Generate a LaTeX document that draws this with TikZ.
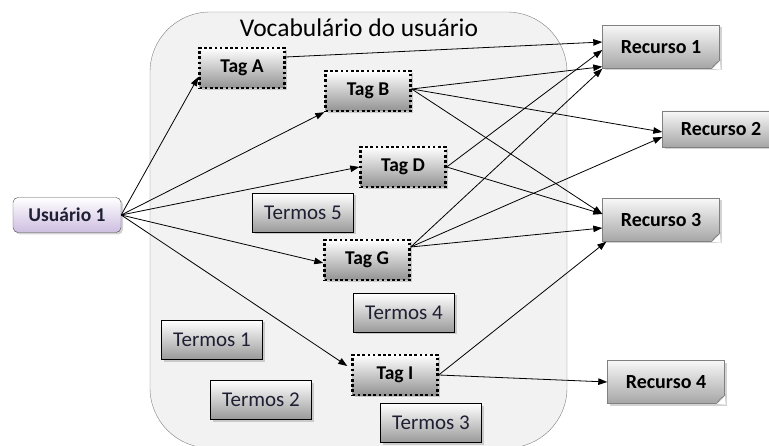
\documentclass[tikz,border=0pt]{standalone}
\usepackage{fontspec}
\setmainfont{Carlito}
\usepackage{tikz}
\usetikzlibrary{positioning,shadows,arrows.meta}
\definecolor{lav}{HTML}{CDBDE0}
\definecolor{txt}{HTML}{1F1F33}
\newcommand\recfold[1]{%
  \fill[white] ([xshift=-8pt]#1.south east) -- ([xshift=1pt,yshift=-1pt]#1.south east) -- ([yshift=8pt]#1.south east) -- cycle;
  \draw[gray,fill=gray!30] ([xshift=-8pt]#1.south east) -- ([yshift=8pt]#1.south east)
    .. controls ([xshift=-5pt,yshift=5pt]#1.south east) .. ([xshift=-8pt]#1.south east);}
\tikzset{
  shade/.style={drop shadow={opacity=0.35,shadow xshift=2pt,shadow yshift=-2pt}},
  userbox/.style={shade,draw=gray!60!black,rounded corners=5pt,top color=white,bottom color=lav,
    minimum width=108pt,minimum height=35pt,text=txt,font=\fontsize{19.5}{22}\selectfont\bfseries},
  tagbox/.style={shade,draw=black,line width=2.4pt,dash pattern=on 2.6pt off 2.6pt,top color=white,
    bottom color=gray!85,minimum width=85pt,minimum height=40pt,font=\fontsize{19.5}{22}\selectfont\bfseries},
  termbox/.style={shade,draw=black,line width=1.3pt,top color=white,bottom color=gray!80,
    minimum width=101pt,minimum height=39pt,text=txt,font=\fontsize{21}{24}\selectfont},
  recbox/.style={shade,draw=gray,top color=gray!6,bottom color=gray!70,minimum width=117pt,
    minimum height=43pt,font=\fontsize{20}{22}\selectfont\bfseries},
  conn/.style={-{Triangle[length=9pt,width=6.5pt]},line width=0.8pt}
}
\begin{document}
\begin{tikzpicture}[x=1pt,y=1pt]
  \useasboundingbox (0,0) rectangle (769,445);
  % vocabulario
  \draw[gray,fill=gray!10,rounded corners=60pt] (150,433) rectangle (567,-3);
  \node (voc) at (359,417) {\fontsize{25.5}{28}\selectfont Vocabulário do usuário};
  \node[userbox] (u1) at (67,230) {Usuário 1};
  \node[tagbox] (tA) at (242,377) {Tag A};
  \node[tagbox] (tB) at (368,354) {Tag B};
  \node[tagbox] (tD) at (403,278) {Tag D};
  \node[tagbox] (tG) at (367,185) {Tag G};
  \node[tagbox] (tI) at (395,70) {Tag I};
  \node[termbox] (t5) at (303,232) {Termos 5};
  \node[termbox] (t4) at (404,132) {Termos 4};
  \node[termbox] (t1) at (212,105) {Termos 1};
  \node[termbox] (t2) at (261,45) {Termos 2};
  \node[termbox] (t3) at (431,22) {Termos 3};
  \node[recbox] (r1) at (661,398) {Recurso 1};
  \node[recbox,minimum height=36pt] (r2) at (721,316) {Recurso 2};
  \node[recbox] (r3) at (661,225) {Recurso 3};
  \node[recbox] (r4) at (666,63) {Recurso 4};
  \recfold{r1} \recfold{r2} \recfold{r3} \recfold{r4}
  % usuario -> tags
  \draw[conn] (u1.east) -- ([yshift=-9pt]tA.west);
  \draw[conn] (u1.east) -- (tB.south west);
  \draw[conn] (u1.east) -- (tD.west);
  \draw[conn] (u1.east) -- ([yshift=-3pt]tG.west);
  \draw[conn] (u1.east) -- ([yshift=9pt,xshift=-4pt]tI.west);
  % tags -> recursos
  \draw[conn] ([yshift=11pt]tA.east) -- ([yshift=5pt]r1.west);
  \draw[conn] ([yshift=2pt]tB.east) -- ([yshift=2pt]r1.south west);
  \draw[conn] ([yshift=2pt]tB.east) -- ([yshift=-3pt]r2.west);
  \draw[conn] ([yshift=2pt]tB.east) -- ([yshift=6pt]r3.west);
  \draw[conn] (tD.east) -- ([yshift=-3pt]r1.west);
  \draw[conn] (tD.east) -- ([yshift=6pt]r3.west);
  \draw[conn] ([yshift=13pt]tG.east) -- (r1.south west);
  \draw[conn] ([yshift=13pt]tG.east) -- ([yshift=-8pt]r2.west);
  \draw[conn] ([yshift=13pt]tG.east) -- ([yshift=-8pt]r3.west);
  \draw[conn] (tI.east) -- ([xshift=4pt]r3.south west);
  \draw[conn] (tI.east) -- (r4.west);
\end{tikzpicture}
\end{document}
